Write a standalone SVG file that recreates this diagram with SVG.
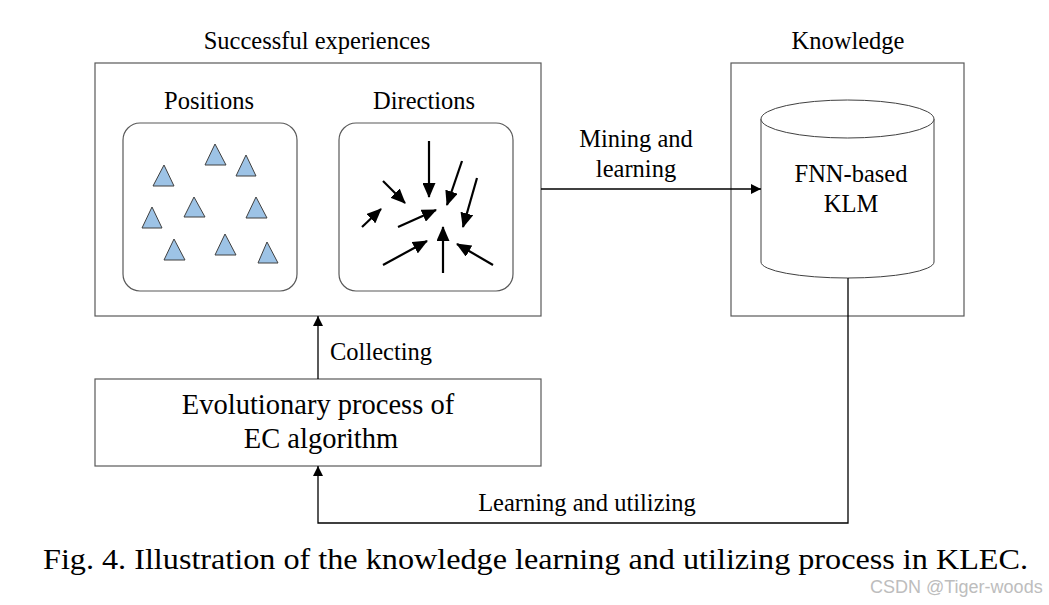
<svg xmlns="http://www.w3.org/2000/svg" width="1049" height="605" viewBox="0 0 1049 605">
<style>
.t{font-family:"Liberation Serif","Times New Roman",serif;fill:#000}
.l{font-size:24.5px}
.box{fill:#fff;stroke:#595959;stroke-width:1.2}
.rr{fill:#fff;stroke:#595959;stroke-width:1.2}
.tri{fill:#9DC3E6;stroke:#404040;stroke-width:1}
.con{fill:none;stroke:#000;stroke-width:1.3}
.dir{stroke:#000;stroke-width:2.2;fill:none}
</style>
<defs>
<marker id="ah" viewBox="0 0 10 10" refX="10" refY="5" markerWidth="10" markerHeight="10" markerUnits="userSpaceOnUse" orient="auto">
<path d="M0,0 L10,5 L0,10 Z" fill="#000"/>
</marker>
<marker id="dh" viewBox="0 0 15 13" refX="14" refY="6.5" markerWidth="15" markerHeight="13" markerUnits="userSpaceOnUse" orient="auto">
<path d="M0,0 L15,6.5 L0,13 Z" fill="#000"/>
</marker>
</defs>
<rect width="1049" height="605" fill="#fff"/>

<g id="experiences">
<rect class="box" x="95" y="63" width="446" height="253"/>
<text class="t l" x="317" y="49" text-anchor="middle">Successful experiences</text>
</g>

<g id="positions">
<rect class="rr" x="123" y="123" width="174" height="168" rx="17"/>
<text class="t l" x="209" y="109" text-anchor="middle">Positions</text>
<polygon class="tri" points="215,144 205,165 226,165"/>
<polygon class="tri" points="246,155 236,176 256,176"/>
<polygon class="tri" points="164,165 153,186 174,186"/>
<polygon class="tri" points="194,197 184,217 205,217"/>
<polygon class="tri" points="256,197 246,218 267,218"/>
<polygon class="tri" points="152,207 142,228 162,228"/>
<polygon class="tri" points="174,239 164,260 185,260"/>
<polygon class="tri" points="225,234 215,255 236,255"/>
<polygon class="tri" points="267,242 258,263 278,263"/>
</g>

<g id="directions">
<rect class="rr" x="339" y="123" width="174" height="168" rx="17"/>
<text class="t l" x="424" y="109" text-anchor="middle">Directions</text>
<line class="dir" x1="429" y1="141" x2="429" y2="197" marker-end="url(#dh)"/>
<line class="dir" x1="462" y1="161" x2="447" y2="205" marker-end="url(#dh)"/>
<line class="dir" x1="477" y1="178" x2="463" y2="227" marker-end="url(#dh)"/>
<line class="dir" x1="383" y1="181" x2="405" y2="203" marker-end="url(#dh)"/>
<line class="dir" x1="362" y1="227" x2="381" y2="209" marker-end="url(#dh)"/>
<line class="dir" x1="398" y1="227" x2="436" y2="210" marker-end="url(#dh)"/>
<line class="dir" x1="383" y1="265" x2="427" y2="241" marker-end="url(#dh)"/>
<line class="dir" x1="443" y1="273" x2="443" y2="227" marker-end="url(#dh)"/>
<line class="dir" x1="493" y1="265" x2="457" y2="244" marker-end="url(#dh)"/>
</g>

<g id="knowledge">
<rect class="box" x="731" y="63" width="233" height="253"/>
<text class="t l" x="848" y="49" text-anchor="middle">Knowledge</text>
</g>

<g id="klm">
<path d="M761,119 L761,262 A86.5,16 0 0 0 934,262 L934,119" fill="#fff" stroke="#404040" stroke-width="1"/>
<ellipse cx="847.5" cy="119" rx="86.5" ry="19" fill="#fff" stroke="#404040" stroke-width="1"/>
<text class="t l" x="851" y="182" text-anchor="middle">FNN-based</text>
<text class="t l" x="851" y="212" text-anchor="middle">KLM</text>
</g>

<g id="evolution">
<rect class="box" x="95" y="379" width="446" height="87"/>
<text class="t" x="318" y="414" font-size="28.5" text-anchor="middle">Evolutionary process of</text>
<text class="t" x="321" y="448" font-size="28.5" text-anchor="middle">EC algorithm</text>
</g>

<g id="connectors">
<line class="con" x1="541" y1="189" x2="761" y2="189" marker-end="url(#ah)"/>
<line class="con" x1="318" y1="379" x2="318" y2="316" marker-end="url(#ah)"/>
<polyline class="con" points="848,278 848,523 318,523 318,466" marker-end="url(#ah)"/>
<text class="t l" x="636" y="147" text-anchor="middle">Mining and</text>
<text class="t l" x="636" y="177" text-anchor="middle">learning</text>
<text class="t l" x="330" y="360">Collecting</text>
<text class="t l" x="587" y="511" text-anchor="middle">Learning and utilizing</text>
</g>

<text class="t" x="43" y="569" font-size="30" textLength="985" lengthAdjust="spacingAndGlyphs">Fig. 4. Illustration of the knowledge learning and utilizing process in KLEC.</text>
<text x="870" y="593" font-size="18" fill="#bdbdbd" font-family="'Liberation Sans',Arial,sans-serif">CSDN @Tiger-woods</text>
</svg>
